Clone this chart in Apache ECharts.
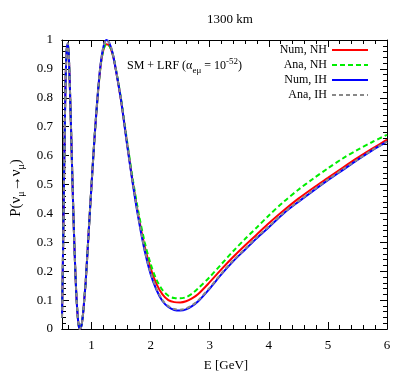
<!DOCTYPE html>
<html>
<head>
<meta charset="utf-8">
<script src="https://cdn.jsdelivr.net/npm/echarts@6/dist/echarts.min.js"></script>
<style>
  html, body { margin: 0; padding: 0; background: #fff; }
  #chart { width: 407px; height: 382px; }
</style>
</head>
<body>
<div id="chart"></div>
<script>
// energy grid [GeV]
const energy = [0.5, 0.52, 0.54, 0.56, 0.58, 0.6, 0.62, 0.64, 0.66, 0.68, 0.7, 0.72, 0.74, 0.76, 0.78, 0.8, 0.82, 0.84, 0.86, 0.88, 0.9,
  0.95, 1.0, 1.05, 1.1, 1.15, 1.2, 1.25, 1.3, 1.35, 1.4,
  1.5, 1.6, 1.7, 1.8, 1.9, 2.0, 2.1, 2.2, 2.3, 2.4, 2.5, 2.6, 2.7, 2.8,
  3.0, 3.2, 3.4, 3.6, 3.8, 4.0,
  4.25, 4.5, 4.75, 5.0, 5.25, 5.5, 5.75, 6.0]

// survival probabilities
const numNH = [0.04, 0.30, 0.60, 0.85, 0.965, 0.985, 0.92, 0.79, 0.64, 0.49, 0.35, 0.23, 0.13, 0.06, 0.015, 0.0, 0.005, 0.025, 0.06, 0.11, 0.16,
  0.33, 0.50, 0.66, 0.795, 0.905, 0.965, 0.985, 0.98, 0.955, 0.91,
  0.79, 0.645, 0.505, 0.385, 0.285, 0.21, 0.155, 0.12, 0.10, 0.093, 0.092, 0.096, 0.106, 0.12,
  0.162, 0.207, 0.25, 0.29, 0.328, 0.366,
  0.41, 0.451, 0.488, 0.523, 0.558, 0.592, 0.624, 0.655]
const anaNH = [0.04, 0.30, 0.60, 0.85, 0.965, 0.985, 0.92, 0.79, 0.64, 0.49, 0.35, 0.23, 0.13, 0.06, 0.015, 0.0, 0.005, 0.025, 0.06, 0.11, 0.16,
  0.33, 0.50, 0.66, 0.795, 0.905, 0.965, 0.985, 0.98, 0.957, 0.913,
  0.795, 0.652, 0.515, 0.398, 0.30, 0.225, 0.17, 0.135, 0.115, 0.107, 0.106, 0.11, 0.122, 0.14,
  0.18, 0.225, 0.27, 0.312, 0.352, 0.393,
  0.44, 0.482, 0.52, 0.556, 0.59, 0.62, 0.647, 0.672]
const numIH = [0.04, 0.30, 0.60, 0.85, 0.97, 0.99, 0.92, 0.79, 0.64, 0.49, 0.35, 0.23, 0.13, 0.06, 0.015, 0.0, 0.005, 0.025, 0.06, 0.11, 0.16,
  0.33, 0.50, 0.66, 0.80, 0.91, 0.975, 1.0, 0.99, 0.96, 0.91,
  0.79, 0.64, 0.50, 0.375, 0.27, 0.19, 0.135, 0.097, 0.076, 0.066, 0.064, 0.068, 0.079, 0.095,
  0.14, 0.19, 0.235, 0.275, 0.315, 0.352,
  0.40, 0.44, 0.478, 0.515, 0.55, 0.585, 0.618, 0.648]
const anaIH = [0.04, 0.30, 0.60, 0.85, 0.97, 0.99, 0.92, 0.79, 0.64, 0.49, 0.35, 0.23, 0.13, 0.06, 0.015, 0.0, 0.005, 0.025, 0.06, 0.11, 0.16,
  0.33, 0.50, 0.66, 0.80, 0.91, 0.975, 1.0, 0.99, 0.96, 0.912,
  0.792, 0.643, 0.503, 0.379, 0.274, 0.195, 0.14, 0.10, 0.079, 0.069, 0.067, 0.071, 0.082, 0.098,
  0.143, 0.193, 0.238, 0.278, 0.318, 0.355,
  0.402, 0.442, 0.48, 0.517, 0.552, 0.586, 0.619, 0.648]

const xLabels = [1, 2, 3, 4, 5, 6]
const xMinor = [0.6, 0.8, 1.2, 1.4, 1.6, 1.8, 2.2, 2.4, 2.6, 2.8, 3.2, 3.4, 3.6, 3.8, 4.2, 4.4, 4.6, 4.8, 5.2, 5.4, 5.6, 5.8]

const FONT = 'Liberation Serif'
const chart = echarts.init(document.getElementById('chart'))

const pair = arr => energy.map((e, i) => [e, arr[i]])

// one x axis per row of ticks (major / minor, bottom / top)
const xAxisBase = (pos, ticks, len, labels) => ({
  type: 'value', min: 0.5, max: 6, position: pos,
  axisLine: { show: true, onZero: false, lineStyle: { color: '#000', width: 1 } },
  axisTick: { show: true, inside: true, length: len, customValues: ticks, lineStyle: { color: '#000' } },
  axisLabel: labels
    ? { show: true, customValues: xLabels, color: '#000', fontFamily: FONT, fontSize: 13, margin: 10 }
    : { show: false },
  splitLine: { show: false }
})

const yAxisBase = (pos, labels) => ({
  type: 'value', min: 0, max: 1, interval: 0.1, position: pos,
  axisLine: { show: true, onZero: false, lineStyle: { color: '#000', width: 1 } },
  axisTick: { show: true, inside: true, length: 7, lineStyle: { color: '#000' } },
  minorTick: { show: true, splitNumber: 5, length: 4, lineStyle: { color: '#000' } },
  axisLabel: labels
    ? { show: true, color: '#000', fontFamily: FONT, fontSize: 13, margin: 9 }
    : { show: false },
  splitLine: { show: false }
})

const option = {
  animation: false,
  grid: { left: 62, right: 20, top: 40, bottom: 53 },
  title: {
    text: '1300 km', left: 225, top: 8, textAlign: 'center',
    textStyle: { fontFamily: FONT, fontSize: 13, fontWeight: 'normal', color: '#000' }
  },
  legend: {
    orient: 'vertical', right: 33, top: 39, align: 'right',
    itemWidth: 36, itemHeight: 10, itemGap: 3,
    itemStyle: { opacity: 0 },
    textStyle: { fontFamily: FONT, fontSize: 12, color: '#000' },
    data: ['Num, NH', 'Ana, NH', 'Num, IH', 'Ana, IH']
  },
  xAxis: [
    xAxisBase('bottom', xLabels, 7, true),
    xAxisBase('bottom', xMinor, 4, false),
    xAxisBase('top', xLabels, 7, false),
    xAxisBase('top', xMinor, 4, false)
  ],
  yAxis: [yAxisBase('left', true), yAxisBase('right', false)],
  graphic: [
    {
      type: 'text', x: 226, y: 366,
      style: { text: 'E [GeV]', fontFamily: FONT, fontSize: 13, fill: '#000', align: 'center', verticalAlign: 'middle' }
    },
    {
      type: 'text', x: 16, y: 188, rotation: Math.PI / 2,
      style: {
        text: 'P(ν{s|μ}→ν{s|μ})', fontFamily: FONT, fontSize: 15, fill: '#000',
        align: 'center', verticalAlign: 'middle', lineHeight: 20,
        rich: { s: { fontSize: 10, fontFamily: FONT, fill: '#000', verticalAlign: 'bottom', lineHeight: 10 } }
      }
    },
    {
      type: 'text', x: 127, y: 66,
      style: {
        text: 'SM + LRF (α{s|eμ} = 10{p|-52})', fontFamily: FONT, fontSize: 12, fill: '#000',
        align: 'left', verticalAlign: 'middle', lineHeight: 18,
        rich: {
          s: { fontSize: 9, fontFamily: FONT, fill: '#000', verticalAlign: 'bottom', lineHeight: 9 },
          p: { fontSize: 9, fontFamily: FONT, fill: '#000', verticalAlign: 'top', lineHeight: 9 }
        }
      }
    }
  ],
  series: [
    {
      name: 'Num, NH', type: 'line', data: pair(numNH), symbol: 'none', smooth: 0.3,
      lineStyle: { color: '#ff0000', width: 2 }, itemStyle: { color: '#ff0000' }
    },
    {
      name: 'Ana, NH', type: 'line', data: pair(anaNH), symbol: 'none', smooth: 0.3,
      lineStyle: { color: '#00ee00', width: 2, type: [5, 3] }, itemStyle: { color: '#00ee00' }
    },
    {
      name: 'Num, IH', type: 'line', data: pair(numIH), symbol: 'none', smooth: 0.3,
      lineStyle: { color: '#0000ff', width: 2 }, itemStyle: { color: '#0000ff' }
    },
    {
      name: 'Ana, IH', type: 'line', data: pair(anaIH), symbol: 'none', smooth: 0.3,
      lineStyle: { color: '#888888', width: 2, type: [4, 3] }, itemStyle: { color: '#888888' }
    }
  ]
}

chart.setOption(option)
</script>
</body>
</html>
